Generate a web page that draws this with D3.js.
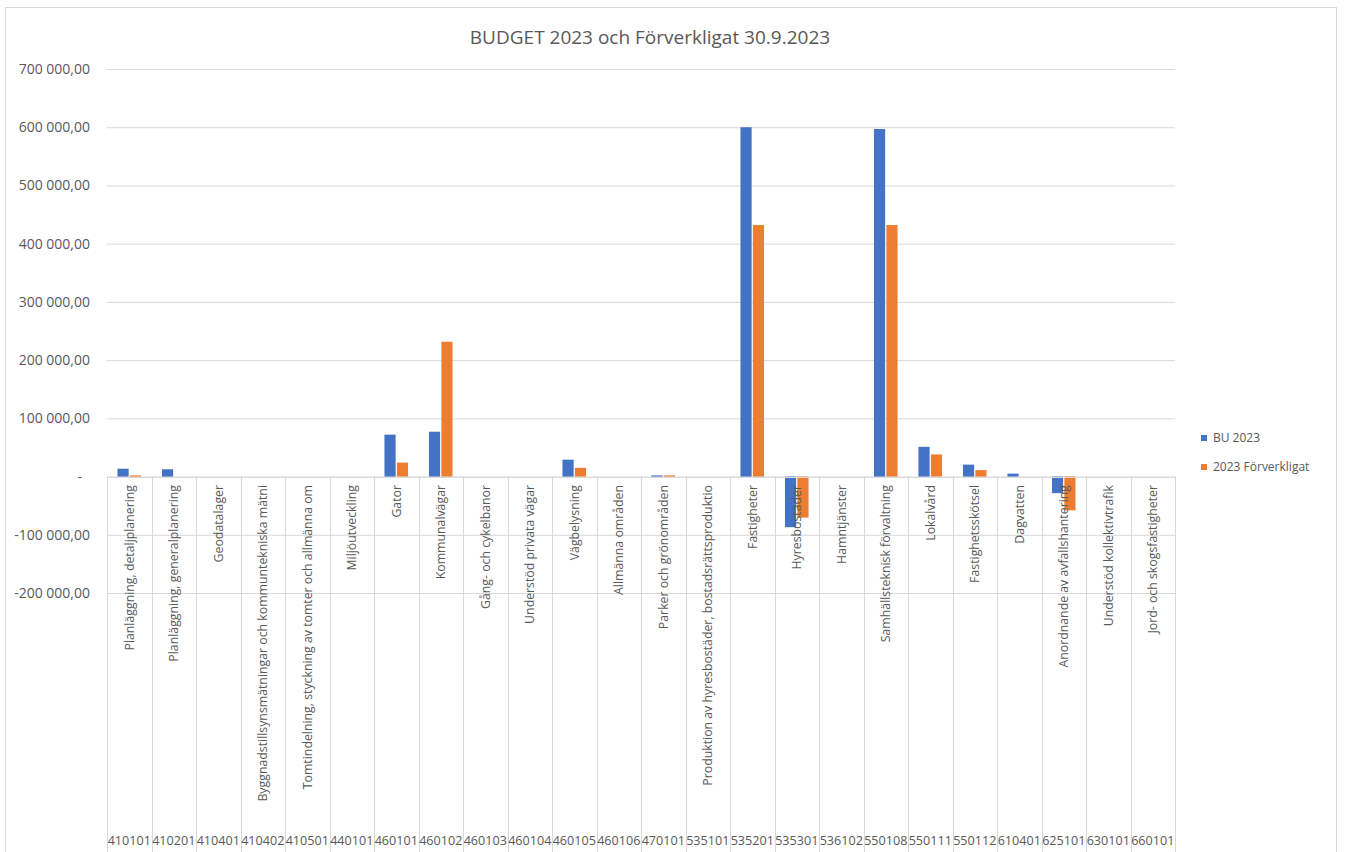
<!DOCTYPE html>
<html>
<head>
<meta charset="utf-8">
<script src="https://cdn.jsdelivr.net/npm/d3@7"></script>
<style>
  html, body { margin: 0; padding: 0; background: #fff; }
  svg { display: block; font-family: "Open Sans", "Noto Sans", sans-serif; }
</style>
</head>
<body>
<svg id="chart" width="1346" height="852"></svg>
<script>
const codes = ["410101","410201","410401","410402","410501","440101","460101","460102","460103","460104","460105","460106","470101","535101","535201","535301","536102","550108","550111","550112","610401","625101","630101","660101"];
const names = ["Planläggning, detaljplanering","Planläggning, generalplanering","Geodatalager","Byggnadstillsynsmätningar och kommuntekniska mätni","Tomtindelning, styckning av tomter och allmänna om","Miljöutveckling","Gator","Kommunalvägar","Gång- och cykelbanor","Understöd privata vägar","Vägbelysning","Allmänna områden","Parker och grönområden","Produktion av hyresbostäder, bostadsrättsproduktio","Fastigheter","Hyresbostäder","Hamntjänster","Samhällsteknisk förvaltning","Lokalvård","Fastighetsskötsel","Dagvatten","Anordnande av avfallshantering","Understöd kollektivtrafik","Jord- och skogsfastigheter"];
const bu2023 = [13500, 12500, 0, 0, 0, 0, 72000, 77000, 0, 0, 29000, 0, 2000, 0, 600000, -87000, 0, 597000, 51000, 20500, 5000, -28500, 0, 0];
const forv2023 = [2000, 0, 0, 0, 0, 0, 24000, 231500, 0, 0, 15000, 0, 2000, 0, 432000, -70500, 0, 432000, 38000, 11000, 0, -58000, 0, 0];
const seriesNames = ["BU 2023", "2023 Förverkligat"];
const yTicks = [-200000, -100000, 0, 100000, 200000, 300000, 400000, 500000, 600000, 700000];
const title = "BUDGET 2023 och Förverkligat 30.9.2023";

const colors = ["#4472C4", "#ED7D31"];
const gridColor = "#D9D9D9";
const textColor = "#595959";

const svg = d3.select("#chart");

// chart border
svg.append("rect").attr("x", 5.5).attr("y", 7.5).attr("width", 1331).attr("height", 860)
  .attr("fill", "#fff").attr("stroke", gridColor).attr("stroke-width", 1);

const x = d3.scaleBand().domain(codes).range([107, 1175]).padding(0);
const y = d3.scaleLinear().domain([-200000, 700000]).range([593, 69]);
const xs = d3.scaleBand().domain(seriesNames).range([-11.8, 11.8]).paddingInner(0.1);

// title
svg.append("text").attr("x", 650).attr("y", 44).attr("text-anchor", "middle")
  .attr("font-size", 19).attr("fill", textColor).text(title);

// gridlines
const yAxis = d3.axisLeft(y).tickValues(yTicks).tickSize(-(1175 - 107)).tickPadding(17)
  .tickFormat(d => d === 0 ? "-" : d3.format(",.2f")(d).replace(/,/g, " ").replace(".", ",").replace("−", "-"));
const gy = svg.append("g").attr("transform", "translate(107,0)").call(yAxis);
gy.select(".domain").remove();
gy.selectAll(".tick line").attr("stroke", gridColor).attr("stroke-width", 1);
gy.selectAll(".tick text").attr("fill", textColor).attr("font-size", 14).attr("font-family", "Open Sans, sans-serif")
  .attr("x", d => d === 0 ? -25 : -17);

// category separators
const bounds = codes.map(c => x(c)).concat([x.range()[1]]);
svg.append("g").selectAll("line").data(bounds).join("line")
  .attr("x1", d => Math.round(d) + 0.5).attr("x2", d => Math.round(d) + 0.5)
  .attr("y1", y(0)).attr("y2", 852)
  .attr("stroke", gridColor).attr("stroke-width", 1);

// bars
const seriesData = [bu2023, forv2023];
seriesData.forEach((vals, si) => {
  svg.append("g").selectAll("rect").data(vals).join("rect")
    .attr("x", (d, i) => x(codes[i]) + x.bandwidth() / 2 + xs(seriesNames[si]))
    .attr("width", xs.bandwidth())
    .attr("y", d => y(Math.max(0, d)))
    .attr("height", d => Math.abs(y(d) - y(0)))
    .attr("fill", colors[si]);
});

// axis line at zero
svg.append("line").attr("x1", 107).attr("x2", 1175).attr("y1", Math.round(y(0)) + 0.5).attr("y2", Math.round(y(0)) + 0.5)
  .attr("stroke", gridColor).attr("stroke-width", 1);

// category name labels (rotated)
svg.append("g").selectAll("text").data(names).join("text")
  .attr("transform", (d, i) => `translate(${x(codes[i]) + x.bandwidth() / 2},485) rotate(-90)`)
  .attr("text-anchor", "end").attr("dy", "0.35em")
  .attr("font-size", 12.3).attr("fill", textColor).text(d => d);

// code labels
svg.append("g").selectAll("text").data(codes).join("text")
  .attr("x", d => x(d) + x.bandwidth() / 2).attr("y", 845)
  .attr("text-anchor", "middle").attr("font-size", 12.6).attr("fill", textColor).text(d => d);

// legend
const leg = svg.append("g");
seriesNames.forEach((s, i) => {
  const cy = 438 + i * 29;
  leg.append("rect").attr("x", 1201).attr("y", cy - 3).attr("width", 6).attr("height", 6).attr("fill", colors[i]);
  leg.append("text").attr("x", 1213).attr("y", cy).attr("dy", "0.35em")
    .attr("font-size", 12).attr("fill", textColor).text(s);
});
</script>
</body>
</html>
